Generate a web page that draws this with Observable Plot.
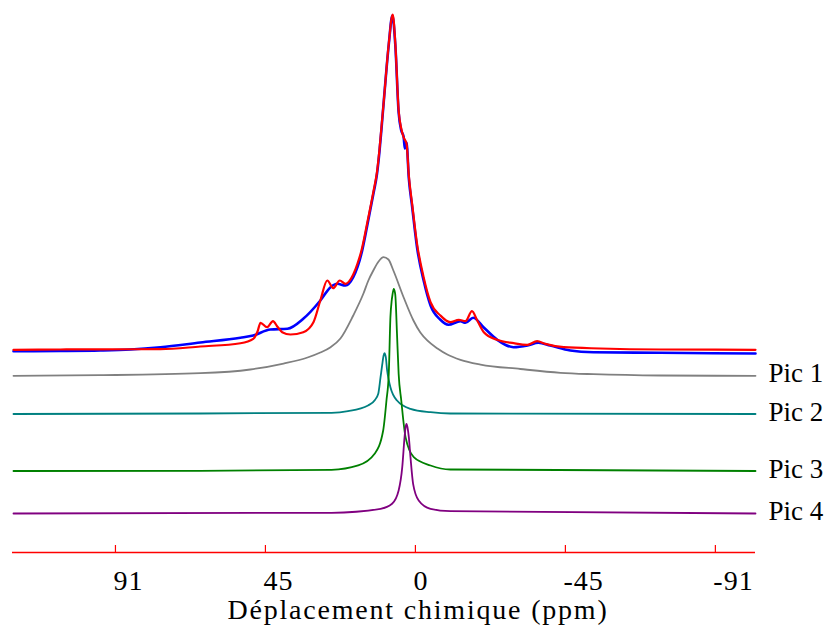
<!DOCTYPE html>
<html>
<head>
<meta charset="utf-8">
<script src="https://cdn.jsdelivr.net/npm/d3@7"></script>
<script src="https://cdn.jsdelivr.net/npm/@observablehq/plot@0.6"></script>
<style>
  html, body { margin: 0; padding: 0; background: #fff; }
  #chart { width: 826px; height: 628px; }
  #chart svg > g:last-of-type { letter-spacing: 1.8px; }
  #chart g[aria-label="x-axis tick label"] { letter-spacing: 1px; }
</style>
</head>
<body>
<div id="chart"></div>
<script>
// Chemical shift (ppm) and intensity (main peak = 100)
const expPpm = [122.2,107.9,95.8,86.6,77.5,65.4,53.2,49.3,44.1,38.9,34.1,28.9,25.8,23.7,21.3,18.9,16.4,14.7,12.7,11.7,10.9,10.3,9.6,8.1,7.0,6.1,5.1,4.3,3.6,3.2,2.7,2.0,1.0,-0.5,-2.5,-4.6,-7.6,-10.0,-13.7,-15.2,-17.6,-20.7,-24.9,-29.8,-34.1,-37.4,-41.0,-47.1,-54.1,-74.5,-103.4];
const expInt = [-0.21,-0.15,0,0.30,0.98,2.38,3.78,4.46,6.25,6.46,9.43,14.88,18.84,19.85,19.35,21.82,28.87,36.90,47.0,52.4,59.5,66.1,74.40,91.07,99.70,90.77,70.83,65.48,63.69,60.1,61.90,51.19,42.86,30.65,20.83,13.39,9.14,7.65,8.72,8.24,9.73,6.93,3.18,0.98,1.49,2.29,1.49,0,-0.51,-0.68,-0.89];

const fitPpm = [122.2,107.9,95.8,77.5,65.4,53.2,49.3,48.0,47.1,45.1,43.3,42.0,40.5,38.0,34.1,31.0,28.9,26.8,25.0,23.0,21.3,18.9,17.6,16.4,14.7,12.7,11.7,10.9,10.3,9.6,8.1,6.9,6.1,5.1,4.3,3.6,2.7,2.0,1.0,-0.5,-2.5,-4.6,-7.6,-10.6,-13.2,-15.2,-17.2,-18.8,-20.8,-24.8,-29.9,-34.0,-37.0,-39.5,-45.1,-56.2,-74.5,-103.4];
const fitInt = [0.21,0.30,0.36,0.39,1.19,2.17,3.48,5.65,8.24,6.93,8.72,7.14,5.45,4.76,5.45,8.42,14.88,20.83,18.54,20.83,19.85,22.62,25.89,29.76,37.71,47.62,52.98,60.12,66.67,74.40,91.28,100,91.28,71.43,66.07,63.48,61.52,52.08,43.66,31.76,21.82,14.38,10.42,8.42,9.14,8.72,11.70,8.93,5.45,3.18,2.17,1.70,2.77,1.99,0.98,0.60,0.30,0.21];

const pic1Ppm = [122.2,95.8,65.4,50.2,40.1,32.8,28.9,25.8,22.8,18.9,15.8,14.3,12.8,11.2,9.7,8.2,6.7,3.6,0.6,-1.5,-3.6,-6.7,-9.7,-13.7,-19.8,-31.9,-44.1,-54.1,-74.5,-103.4];
const pic1Int = [0,0.18,0.77,1.88,3.66,5.45,6.93,8.51,11.10,17.95,24.49,28.36,31.34,34.02,35.30,34.61,31.34,23.39,16.46,12.89,10.51,8.13,6.34,4.76,3.36,2.02,0.89,0.48,0.09,0];

const pic2Ppm = [122.2,65.4,25.5,20.5,14.4,12.3,11.3,10.6,10.1,9.7,9.4,9.0,8.6,8.1,7.6,5.6,1.5,-4.6,-10.6,-103.4];
const pic2Int = [0,0.15,0.36,0.83,2.53,4.2,6.01,10.95,14.6,17.3,18.10,16.9,12.95,10.1,7.98,4.02,1.55,0.54,0.15,0];

const pic3Ppm = [122.2,65.4,25.5,17.4,12.4,9.8,8.8,8.1,7.6,7.2,7.0,6.6,6.2,6.1,5.6,5.1,4.3,3.0,0.5,-4.6,-10.6,-103.4];
const pic3Int = [0,0.06,0.36,1.64,5.12,12.05,20.98,28.93,45.77,50.8,52.23,54.23,53.0,52.23,40.83,28.93,20.98,10.06,4.11,1.64,0.45,0];

const pic4Ppm = [122.2,25.5,10.6,7.1,5.1,4.0,3.3,3.0,2.7,2.4,2.0,1.5,0.7,-1.0,-4.6,-10.6,-103.4];
const pic4Int = [0,0.21,1.40,2.89,6.85,13.78,22.71,25.6,26.70,25.6,22.71,16.76,8.84,3.87,1.40,0.68,0];

// vertical stacking offsets of each trace (same intensity units)
const seriesNames = ["Expérimental", "Ajustement", "Pic 1", "Pic 2", "Pic 3", "Pic 4"];
const seriesOffsets = [60.12, 60.12, 52.59, 41.22, 24.26, 11.61];
const seriesColors = ["#0000ff", "#ff0000", "#808080", "#008080", "#008000", "#800080"];
const seriesWidths = [2.6, 2.2, 1.8, 1.8, 1.8, 1.8];

const xTicks = [91.2, 45.6, 0, -45.6, -91.2];
const xTickLabels = ["91", "45", "0", "-45", "-91"];
const xTitle = "Déplacement chimique (ppm)";
const xDomain = [122.5, -103.4];
const yDomain = [0, 164.29];

const seriesPpm = [expPpm, fitPpm, pic1Ppm, pic2Ppm, pic3Ppm, pic4Ppm];
const seriesInt = [expInt, fitInt, pic1Int, pic2Int, pic3Int, pic4Int];

const lineMarks = seriesNames.map((name, s) => {
  const rows = seriesPpm[s].map((p, i) => ({ppm: p, y: seriesInt[s][i] + seriesOffsets[s]}));
  return Plot.line(rows, {x: "ppm", y: "y", stroke: seriesColors[s], strokeWidth: seriesWidths[s], curve: "monotone-x"});
});

const labelRows = seriesNames.slice(2).map((name, i) => ({name, y: seriesOffsets[i + 2]}));
const tickLabel = new Map(xTicks.map((t, i) => [t, xTickLabels[i]]));

const chart = Plot.plot({
  width: 826,
  height: 628,
  marginLeft: 12,
  marginRight: 71,
  marginTop: 0,
  marginBottom: 76,
  x: {domain: xDomain, label: null},
  y: {domain: yDomain, axis: null},
  style: {fontFamily: "'Liberation Serif', 'Times New Roman', serif", background: "#fff", color: "#000"},
  marks: [
    Plot.ruleY([0], {stroke: "#ff0000", strokeWidth: 1.5}),
    Plot.tickX(xTicks, {x: d => d, stroke: "#ff0000", strokeWidth: 1.2, insetTop: 545}),
    Plot.axisX(xTicks, {tickSize: 0, tickPadding: 18, tickFormat: d => tickLabel.get(d), textAnchor: "start", dx: -2, fontSize: 28, fill: "#000", label: null}),
    ...lineMarks,
    Plot.text(labelRows, {y: "y", text: "name", frameAnchor: "right", textAnchor: "start", dx: 13, dy: -2, fontSize: 27, fill: "#000"}),
    Plot.text([xTitle], {text: d => d, frameAnchor: "bottom", lineAnchor: "middle", dx: 34, dy: 58, fontSize: 28, fill: "#000"})
  ]
});
document.getElementById("chart").appendChild(chart);
</script>
</body>
</html>
